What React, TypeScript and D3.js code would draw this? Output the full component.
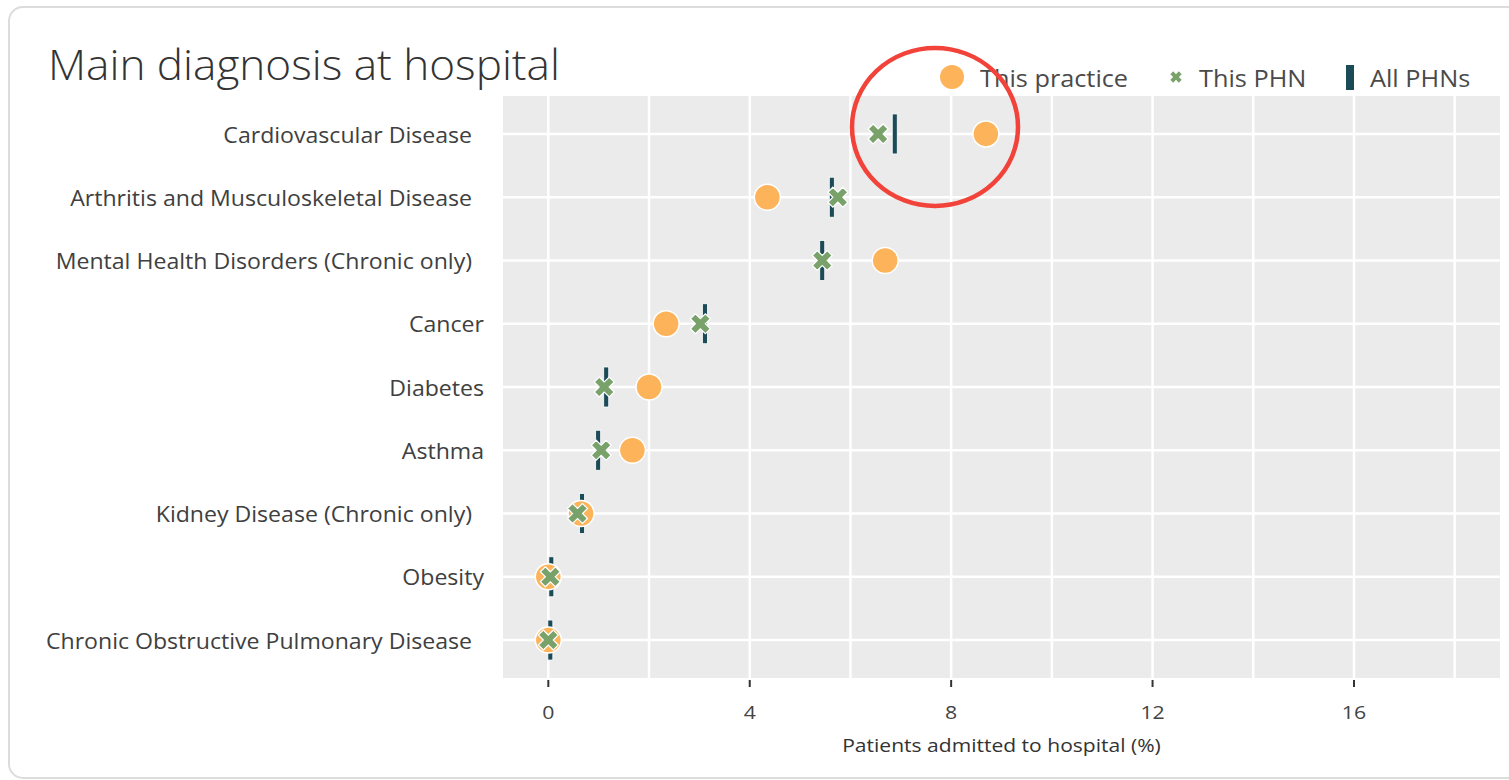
import * as d3 from "d3";

// categories, top to bottom
const categories = [
  "Cardiovascular Disease",
  "Arthritis and Musculoskeletal Disease",
  "Mental Health Disorders (Chronic only)",
  "Cancer",
  "Diabetes",
  "Asthma",
  "Kidney Disease (Chronic only)",
  "Obesity",
  "Chronic Obstructive Pulmonary Disease",
];
// some labels carry trailing spaces in the original
const labelPad = [2, 2, 2, 0, 0, 0, 2, 0, 2];

const thisPractice = [8.69, 4.35, 6.69, 2.34, 2.0, 1.67, 0.65, 0.0, 0.0];
const thisPHN = [6.55, 5.75, 5.44, 3.02, 1.11, 1.05, 0.58, 0.04, 0.0];
const allPHNs = [6.88, 5.63, 5.44, 3.11, 1.15, 0.99, 0.67, 0.06, 0.04];

const majorTicks = [0, 4, 8, 12, 16];
const minorTicks = [2, 6, 10, 14, 18];

const W = 1509;
const H = 780;
const FONT = "'Open Sans', 'Noto Sans', sans-serif";

const ORANGE = "#fdb35a";
const GREEN = "#79a26a";
const DARK = "#1c4b58";

// text drawn a bit wider than the installed font, to match the screenshot
function SText({ x, y, sx = 1, anchor = "start", size, fill, weight = 400, children }: any) {
  return (
    <g transform={`translate(${x},${y}) scale(${sx},1)`}>
      <text
        textAnchor={anchor}
        dominantBaseline="central"
        fontSize={size}
        fontWeight={weight}
        fill={fill}
        style={{ whiteSpace: "pre" }}
      >
        {children}
      </text>
    </g>
  );
}

export default function App() {
  const panel = { left: 503, right: 1500, top: 96, bottom: 678 };

  const x = d3.scaleLinear().domain([-0.9, 18.9]).range([panel.left, panel.right]);
  const y = d3
    .scalePoint<string>()
    .domain(categories)
    .range([panel.top, panel.bottom])
    .padding(0.6);

  const cross = d3.symbol().type(d3.symbolCross).size(250)();
  const crossSmall = d3.symbol().type(d3.symbolCross).size(80)();

  return (
    <svg
      width={W}
      height={H}
      style={{ position: "absolute", left: 0, top: 0, display: "block", background: "#fff" }}
      fontFamily={FONT}
    >
      {/* card */}
      <rect x={9} y={7} width={1530} height={771} rx={14} fill="#fff" stroke="#dcdcdc" strokeWidth={2} />

      <SText x={48} y={64} sx={1.05} size={42} weight={300} fill="#333">
        Main diagnosis at hospital
      </SText>

      {/* panel */}
      <rect
        x={panel.left}
        y={panel.top}
        width={panel.right - panel.left}
        height={panel.bottom - panel.top}
        fill="#ebebeb"
      />
      {minorTicks.map((t) => (
        <line key={"mn" + t} x1={x(t)} x2={x(t)} y1={panel.top} y2={panel.bottom} stroke="#fff" strokeWidth={2.5} />
      ))}
      {majorTicks.map((t) => (
        <line key={"mj" + t} x1={x(t)} x2={x(t)} y1={panel.top} y2={panel.bottom} stroke="#fff" strokeWidth={2.5} />
      ))}
      {categories.map((c) => (
        <line key={"h" + c} x1={panel.left} x2={panel.right} y1={y(c)} y2={y(c)} stroke="#fff" strokeWidth={2.5} />
      ))}

      {/* y labels */}
      {categories.map((c, i) => (
        <SText key={"yl" + c} x={484} y={y(c)} sx={1.1} anchor="end" size={21} fill="#404040">
          {c + "\u00a0".repeat(labelPad[i])}
        </SText>
      ))}

      {/* x axis */}
      {majorTicks.map((t) => (
        <g key={"xt" + t}>
          <line x1={x(t)} x2={x(t)} y1={panel.bottom + 2} y2={panel.bottom + 9} stroke="#333" strokeWidth={2} />
          <SText x={x(t)} y={711} sx={1.12} anchor="middle" size={19} fill="#444">
            {t}
          </SText>
        </g>
      ))}
      <SText x={(panel.left + panel.right) / 2} y={745} sx={1.17} anchor="middle" size={18} fill="#333">
        Patients admitted to hospital (%)
      </SText>

      {/* All PHNs bars */}
      {categories.map((c, i) => (
        <rect
          key={"b" + c}
          x={x(allPHNs[i]) - 2.5}
          y={(y(c) as number) - 20}
          width={5}
          height={40}
          fill={DARK}
          stroke="#fff"
          strokeWidth={0.8}
        />
      ))}
      {/* This practice */}
      {categories.map((c, i) => (
        <circle
          key={"p" + c}
          cx={x(thisPractice[i])}
          cy={y(c)}
          r={13}
          fill={ORANGE}
          stroke="#fff"
          strokeWidth={1.5}
        />
      ))}
      {/* This PHN */}
      {categories.map((c, i) => (
        <path
          key={"x" + c}
          d={cross as string}
          transform={`translate(${x(thisPHN[i])},${y(c)}) rotate(45)`}
          fill={GREEN}
          stroke="#fff"
          strokeWidth={1.2}
        />
      ))}

      {/* legend */}
      <circle cx={952} cy={77} r={12} fill={ORANGE} />
      <SText x={980} y={78} sx={1.1} size={23} fill="#4a4a4a">This practice</SText>
      <path d={crossSmall as string} transform="translate(1176,77) rotate(45)" fill={GREEN} />
      <SText x={1199} y={78} sx={1.1} size={23} fill="#4a4a4a">This PHN</SText>
      <rect x={1346} y={65} width={8} height={25} fill={DARK} />
      <SText x={1370} y={78} sx={1.1} size={23} fill="#4a4a4a">All PHNs</SText>

      {/* annotation */}
      <ellipse
        cx={(x(6.55) + x(8.69)) / 2 + 3}
        cy={(y(categories[0]) as number) - 7}
        rx={83}
        ry={79}
        fill="none"
        stroke="#f2433a"
        strokeWidth={4.5}
      />
    </svg>
  );
}
